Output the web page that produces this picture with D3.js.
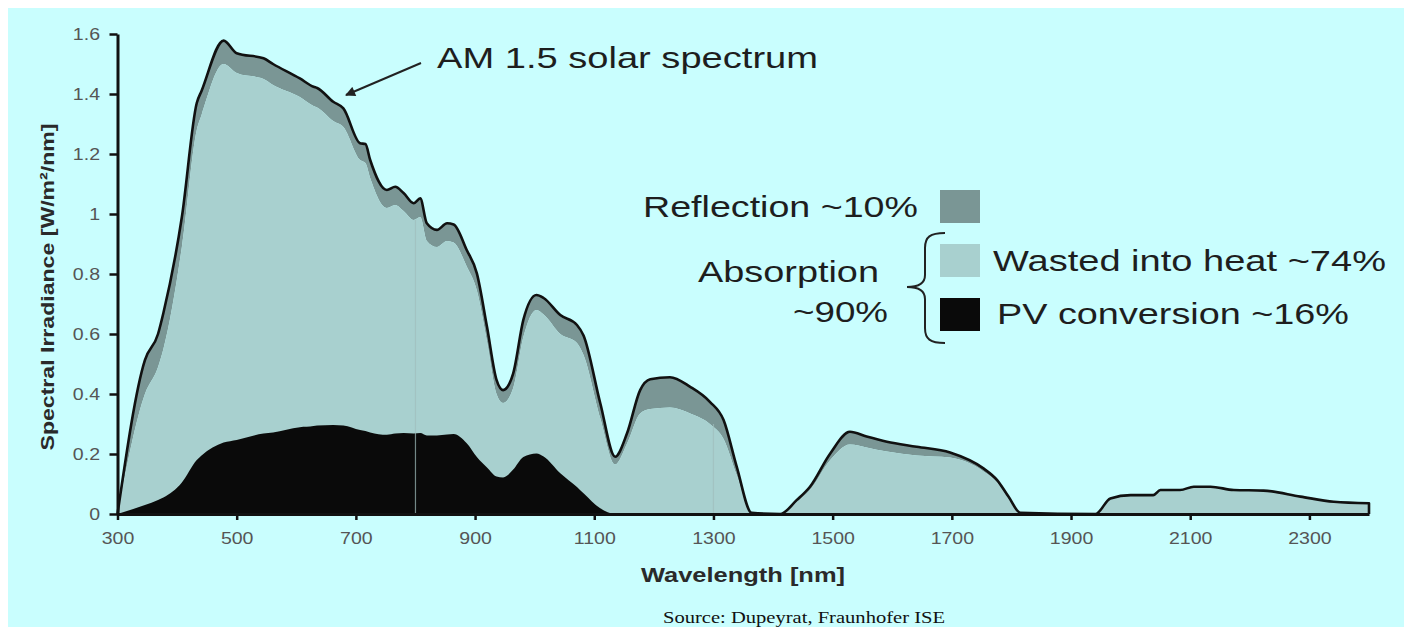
<!DOCTYPE html>
<html>
<head>
<meta charset="utf-8">
<script src="https://cdn.jsdelivr.net/npm/d3@7"></script>
<style>
  body { margin: 0; background: #fff; }
  svg { display: block; }
</style>
</head>
<body>
<svg id="chart"></svg>
<script>
// AM 1.5 spectrum split into reflection / heat / PV
const wavelength = [300, 346, 368, 377, 408, 433, 441, 478, 500, 545,
    561, 606, 629, 635, 662, 679, 707, 716, 724, 752,
    766, 780, 797, 808, 819, 836, 853, 864, 886, 903,
    920, 936, 947, 964, 981, 1003, 1015, 1043, 1071, 1082,
    1110, 1135, 1155, 1177, 1194, 1227, 1261, 1294, 1317, 1339,
    1364, 1412, 1440, 1462, 1496, 1529, 1557, 1591, 1641, 1697,
    1753, 1776, 1795, 1815, 1941, 1966, 2000, 2038, 2050, 2083,
    2106, 2134, 2173, 2223, 2285, 2341, 2400]

const spectrum = [0, 0.513, 0.60, 0.67, 0.99, 1.37, 1.41, 1.578, 1.536, 1.519,
    1.50, 1.452, 1.424, 1.42, 1.374, 1.352, 1.236, 1.233, 1.18, 1.08,
    1.091, 1.07, 1.036, 1.052, 0.969, 0.947, 0.969, 0.965, 0.88, 0.802,
    0.624, 0.447, 0.413, 0.469, 0.647, 0.73, 0.72, 0.663, 0.63, 0.595,
    0.37, 0.191, 0.269, 0.413, 0.449, 0.456, 0.424, 0.374, 0.313, 0.158,
    0.004, 0, 0.047, 0.091, 0.202, 0.274, 0.258, 0.241, 0.224, 0.205,
    0.152, 0.113, 0.058, 0.004, 0, 0.052, 0.063, 0.063, 0.08, 0.08,
    0.091, 0.091, 0.08, 0.078, 0.058, 0.041, 0.036]

// top of the absorbed (light) layer = spectrum minus reflection
const absorbed = [0, 0.40, 0.49, 0.55, 0.89, 1.28, 1.33, 1.50, 1.47, 1.45,
    1.43, 1.39, 1.36, 1.355, 1.31, 1.29, 1.18, 1.17, 1.12, 1.02,
    1.03, 1.01, 0.98, 0.99, 0.91, 0.89, 0.91, 0.905, 0.825, 0.745,
    0.575, 0.40, 0.37, 0.42, 0.59, 0.68, 0.665, 0.60, 0.57, 0.53,
    0.32, 0.165, 0.235, 0.335, 0.35, 0.355, 0.335, 0.30, 0.25, 0.13,
    0.002, 0, 0.04, 0.08, 0.18, 0.232, 0.222, 0.208, 0.195, 0.188,
    0.142, 0.105, 0.052, 0.002, 0, 0.048, 0.058, 0.059, 0.075, 0.076,
    0.087, 0.087, 0.077, 0.075, 0.056, 0.039, 0.034]

const pvConversion = [0, 0.03, 0.047, 0.055, 0.105, 0.18, 0.195, 0.238, 0.247, 0.268,
    0.272, 0.289, 0.293, 0.295, 0.297, 0.295, 0.28, 0.277, 0.272, 0.264,
    0.268, 0.27, 0.268, 0.27, 0.262, 0.262, 0.265, 0.267, 0.236, 0.19,
    0.155, 0.125, 0.122, 0.148, 0.19, 0.202, 0.192, 0.136, 0.09, 0.069,
    0.019, 0, 0, 0, 0, 0, 0, 0, 0, 0,
    0, 0, 0, 0, 0, 0, 0, 0, 0, 0,
    0, 0, 0, 0, 0, 0, 0, 0, 0, 0,
    0, 0, 0, 0, 0, 0, 0]

// faint seams in the original image
const seamNm = [800, 1300]
const seamTop = [0.98, 0.30]

const xTicks = [300, 500, 700, 900, 1100, 1300, 1500, 1700, 1900, 2100, 2300]
const yTicks = [0, 0.2, 0.4, 0.6, 0.8, 1, 1.2, 1.4, 1.6]
const yTickLabels = ['0', '0.2', '0.4', '0.6', '0.8', '1', '1.2', '1.4', '1.6']

const legendLabels = ['Reflection ~10%', 'Wasted into heat ~74%', 'PV conversion ~16%']
const colours = ['#7a9695', '#a8d0cf', '#0a0a0a']

const width = 1404
const height = 628

const data = wavelength.map((w, i) => ({x: w, total: spectrum[i], abs: absorbed[i], pv: pvConversion[i]}))

const svg = d3.select('#chart')
    .attr('width', width)
    .attr('height', height)
    .style('font-family', '"Liberation Sans", Arial, sans-serif')

// cyan background panel
svg.append('rect')
    .attr('x', 8).attr('y', 8)
    .attr('width', width - 8).attr('height', 619)
    .attr('fill', '#c9fefe')

// scales
const xScale = d3.scaleLinear().domain([300, 2400]).range([117.5, 1369])
const yScale = d3.scaleLinear().domain([0, 1.6]).range([514, 34])

// helper: stretch a text horizontally like the source image
const widen = (sel, k) => sel.each(function () {
    const len = this.getComputedTextLength()
    d3.select(this).attr('textLength', len * k).attr('lengthAdjust', 'spacingAndGlyphs')
})

const curve = d3.curveMonotoneX

// layers
const reflectionArea = d3.area().curve(curve).x(d => xScale(d.x)).y0(d => yScale(d.abs)).y1(d => yScale(d.total))
const heatArea = d3.area().curve(curve).x(d => xScale(d.x)).y0(yScale(0)).y1(d => yScale(d.abs))
const pvArea = d3.area().curve(curve).x(d => xScale(d.x)).y0(yScale(0)).y1(d => yScale(d.pv))

svg.append('path').datum(data).attr('d', reflectionArea).attr('fill', colours[0])
svg.append('path').datum(data).attr('d', heatArea).attr('fill', colours[1])
svg.append('path').datum(data).attr('d', pvArea).attr('fill', colours[2])

// seams
svg.selectAll('.seam')
    .data(seamNm)
    .enter()
    .append('line')
        .attr('class', 'seam')
        .attr('x1', d => xScale(d)).attr('x2', d => xScale(d))
        .attr('y1', yScale(0))
        .attr('y2', (d, i) => yScale(seamTop[i]))
        .attr('stroke', '#9fbdbc')
        .attr('stroke-opacity', 0.7)
        .attr('stroke-width', 1.2)

// spectrum outline, closed down to the axis at the right end
const line = d3.line().curve(curve).x(d => xScale(d.x)).y(d => yScale(d.total))
const last = data[data.length - 1]
svg.append('path')
    .datum(data)
    .attr('d', d => line(d) + `L${xScale(last.x)},${yScale(0)}`)
    .attr('fill', 'none')
    .attr('stroke', '#111')
    .attr('stroke-width', 2.6)
    .attr('stroke-linejoin', 'round')

// axes
const xAxis = d3.axisBottom(xScale)
    .tickValues(xTicks)
    .tickFormat(d3.format('d'))
    .tickSize(6)
    .tickSizeOuter(0)
    .tickPadding(13)
const yAxis = d3.axisLeft(yScale)
    .tickValues(yTicks)
    .tickFormat((d, i) => yTickLabels[i])
    .tickSize(8)
    .tickSizeOuter(0)
    .tickPadding(9.5)

const gx = svg.append('g')
    .attr('transform', `translate(0, ${yScale(0)})`)
    .call(xAxis)
const gy = svg.append('g')
    .attr('transform', `translate(${xScale(300)}, 0)`)
    .call(yAxis)

;[gx, gy].forEach(g => {
    g.select('.domain').attr('stroke', '#111').attr('stroke-width', 3)
    g.selectAll('.tick line').attr('stroke', '#111').attr('stroke-width', 2.5)
    g.selectAll('.tick text')
        .attr('fill', '#555')
        .style('font-size', '16px')
        .style('font-family', '"Liberation Sans", Arial, sans-serif')
        .call(widen, 1.22)
})

// axis titles
svg.append('text')
    .attr('x', 743).attr('y', 582)
    .attr('text-anchor', 'middle')
    .style('font-size', '21px')
    .style('font-weight', 'bold')
    .attr('fill', '#2a2a2a')
    .text('Wavelength [nm]')
    .attr('textLength', 204).attr('lengthAdjust', 'spacingAndGlyphs')

svg.append('text')
    .attr('transform', 'translate(54, 287) rotate(-90)')
    .attr('text-anchor', 'middle')
    .style('font-size', '19px')
    .style('font-weight', 'bold')
    .attr('fill', '#2a2a2a')
    .text('Spectral Irradiance [W/m²/nm]')
    .attr('textLength', 327).attr('lengthAdjust', 'spacingAndGlyphs')

// annotation: AM 1.5 solar spectrum with arrow
svg.append('defs').append('marker')
    .attr('id', 'head')
    .attr('viewBox', '0 0 10 10')
    .attr('refX', 9).attr('refY', 5)
    .attr('markerWidth', 6).attr('markerHeight', 5)
    .attr('orient', 'auto')
    .append('path')
        .attr('d', 'M0,0 L10,5 L0,10 z')
        .attr('fill', '#222')

svg.append('line')
    .attr('x1', 421).attr('y1', 63)
    .attr('x2', 346).attr('y2', 95)
    .attr('stroke', '#222')
    .attr('stroke-width', 2)
    .attr('marker-end', 'url(#head)')

svg.append('text')
    .attr('x', 437).attr('y', 68)
    .style('font-size', '30px')
    .attr('fill', '#1e1e1e')
    .text('AM 1.5 solar spectrum')
    .attr('textLength', 381).attr('lengthAdjust', 'spacingAndGlyphs')

// legend
const legendText = [
    {t: legendLabels[0], x: 643, y: 217, len: 275},
    {t: legendLabels[1], x: 993, y: 271, len: 393},
    {t: legendLabels[2], x: 997, y: 324, len: 352},
    {t: 'Absorption', x: 698, y: 282, len: 181},
    {t: '~90%', x: 793, y: 322, len: 95}
]
svg.selectAll('.legend-text')
    .data(legendText)
    .enter()
    .append('text')
        .attr('class', 'legend-text')
        .attr('x', d => d.x)
        .attr('y', d => d.y)
        .style('font-size', '29px')
        .attr('fill', '#1e1e1e')
        .text(d => d.t)
        .attr('textLength', d => d.len)
        .attr('lengthAdjust', 'spacingAndGlyphs')

const swatchY = [190, 244, 298]
svg.selectAll('.swatch')
    .data(colours)
    .enter()
    .append('rect')
        .attr('class', 'swatch')
        .attr('x', 940)
        .attr('y', (d, i) => swatchY[i])
        .attr('width', 40)
        .attr('height', 33)
        .attr('fill', d => d)

// curly brace grouping heat + PV
svg.append('path')
    .attr('d', 'M945,233 C930,233 925,237 925,248 L925,275 C925,284 918,287 907,287 C918,287 925,290 925,299 L925,328 C925,339 930,343 945,343')
    .attr('fill', 'none')
    .attr('stroke', '#222')
    .attr('stroke-width', 2)

// source note at the bottom edge
svg.append('text')
    .attr('x', 663).attr('y', 623)
    .style('font-family', '"Liberation Serif", "DejaVu Serif", serif')
    .style('font-size', '17px')
    .attr('fill', '#111')
    .text('Source: Dupeyrat, Fraunhofer ISE')
    .attr('textLength', 282).attr('lengthAdjust', 'spacingAndGlyphs')
</script>
</body>
</html>
